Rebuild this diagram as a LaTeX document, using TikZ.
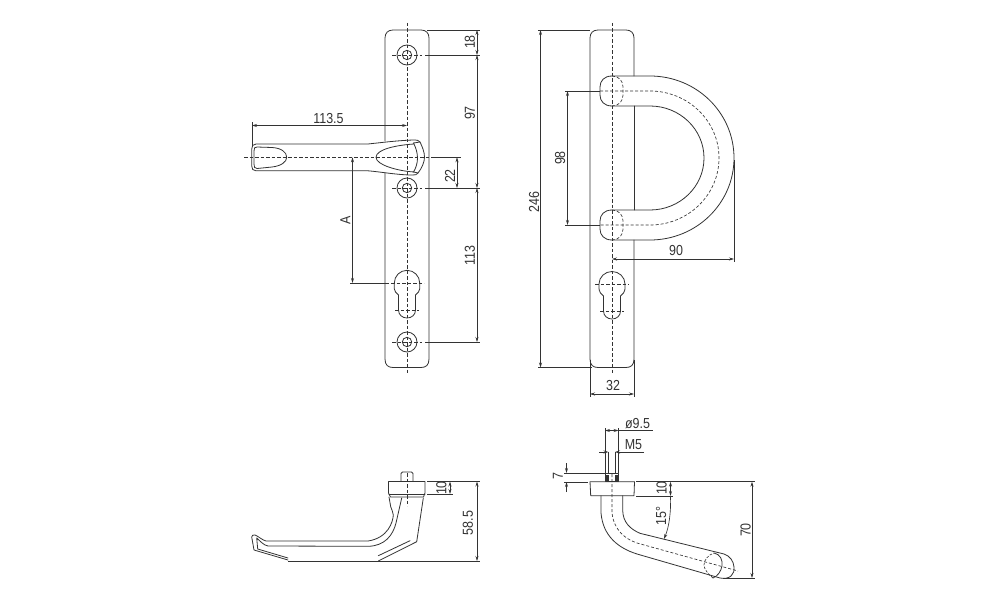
\documentclass[tikz,border=0pt]{standalone}
\usepackage{fontspec}
\setmainfont[FakeStretch=0.86]{Liberation Sans}
\usetikzlibrary{arrows.meta}
\definecolor{ink}{HTML}{333333}
\tikzset{
 x=1pt,y=-1pt,
 outline/.style={draw=ink,line width=0.8pt,line cap=round,line join=round},
 hidden/.style={draw=ink,line width=0.65pt,dash pattern=on 3pt off 2pt},
 center/.style={draw=ink,line width=0.65pt,dash pattern=on 3.5pt off 2pt},
 dimline/.style={draw=ink,line width=0.65pt},
 dimboth/.style={dimline,{Stealth[length=5pt,width=3pt]}-{Stealth[length=5pt,width=3pt]}},
 dimto/.style={dimline,-{Stealth[length=5pt,width=3pt]}},
 lab/.style={font=\fontsize{14.5}{15}\selectfont,text=ink,inner sep=0pt},
 vlab/.style={lab,rotate=90},
}
\begin{document}
\begin{tikzpicture}
\useasboundingbox (0,0) rectangle (1000,602);
\fill[white] (0,0) rectangle (1000,602);
%%% FRONT VIEW, LEFT
\draw[outline] (385,141) -- (385,38) .. controls (385,33) and (388,30) .. (393,30) -- (421,30) .. controls (426,30) and (429,33) .. (429,38) -- (429,359) .. controls (429,365) and (426,367.5) .. (421,367.5) -- (393,367.5) .. controls (388,367.5) and (385,365) .. (385,359) -- (385,173);
\draw[center] (407,23) -- (407,374);
\foreach \yy in {55,188,342}{
 \draw[outline] (407,\yy) circle[radius=10];
 \draw[outline] (407,\yy) circle[radius=4.7];
 \draw[center] (392,\yy) -- (422,\yy);
}
% keyhole
\draw[outline] (398.5,295) .. controls (393,291) and (394.3,287) .. (394.3,283) .. controls (394.3,276) and (400,270.3) .. (407,270.3) .. controls (414,270.3) and (419.7,276) .. (419.7,283) .. controls (419.7,287) and (421,291) .. (415.5,295) -- (415.5,310) .. controls (415.5,315) and (411.5,318) .. (407,318) .. controls (402.5,318) and (398.5,315) .. (398.5,310) -- cycle;
\draw[center] (391,283) -- (424,283);
\draw[center] (395,310) -- (419,310);
% lever
\draw[outline] (368,144) -- (256,144) .. controls (253,144) and (251.7,146) .. (251.7,149) -- (251.7,166) .. controls (251.7,169) and (253,170.8) .. (256,170.8) -- (368,170.8) .. controls (382,172) and (398,175) .. (412,175) .. controls (415,175) and (417,175) .. (418,173) .. controls (422,168) and (424.5,162) .. (424.5,157) .. controls (424.5,152) and (422,146) .. (420,142) .. controls (419,140.3) and (417,140) .. (413,140) .. controls (398,140.5) and (382,142.5) .. (368,144) -- cycle;
\draw[outline] (257,147) -- (272,147.5) .. controls (281,148) and (286.7,152) .. (286.7,157.3) .. controls (286.7,162) and (281,166) .. (272,167) -- (257,168.5) .. controls (254.5,168.5) and (254,167) .. (254,164) -- (254,151) .. controls (254,148) and (254.5,147) .. (257,147) -- cycle;
\draw[outline] (414,144) .. controls (398,145) and (376,149) .. (376,157.3) .. controls (376,165) and (398,171) .. (414,172);
\draw[outline] (413.5,143) .. controls (416,148) and (417.5,153) .. (417.5,158) .. controls (417.5,163) and (416,168) .. (413.5,172) .. controls (415,172.5) and (417,172.5) .. (418,173);
\draw[outline] (413.5,143) -- (420,142);
\draw[center] (244,157.3) -- (433,157.3);
% dimensions
\draw[dimline] (427,30) -- (480,30);
\draw[dimline] (425,55) -- (480,55);
\draw[dimline] (425,188) -- (480,188);
\draw[dimline] (425,342) -- (480,342);
\draw[dimline] (433,157.3) -- (461,157.3);
\draw[dimboth] (477,30) -- (477,55);
\draw[dimboth] (477,55) -- (477,188);
\draw[dimboth] (477,188) -- (477,342);
\draw[dimboth] (457,157.3) -- (457,188);
\draw[dimline] (252,122) -- (252,146);
\draw[dimboth] (252,125.5) -- (407,125.5);
\draw[dimboth] (352.5,157.3) -- (352.5,283);
\draw[dimline] (350,283) -- (389,283);
\node[vlab] (d18) at (470,42) {18};
\node[vlab] (d97) at (470,113) {97};
\node[vlab] (d22) at (450,176) {22};
\node[vlab] (d113) at (470,256) {113};
\node[lab] (d1135) at (328.5,119) {113.5};
\node[vlab] (dA) at (345.5,220) {A};
%%% FRONT VIEW, RIGHT
\draw[outline] (634,76) -- (634,38) .. controls (634,33) and (631,30) .. (626,30) -- (598,30) .. controls (593,30) and (590,33) .. (590,38) -- (590,359) .. controls (590,365) and (593,367.5) .. (598,367.5) -- (626,367.5) .. controls (631,367.5) and (634,365) .. (634,359) -- (634,240);
\draw[outline] (634,106) -- (634,210);
\draw[center] (612,23) -- (612,374);
% D handle
\draw[outline] (612,76) -- (650,76) .. controls (696.4,76) and (734,112.7) .. (734,158) .. controls (734,203.3) and (696.4,240) .. (650,240) -- (612,240);
\draw[outline] (612,106) -- (650,106) .. controls (679.8,106) and (704,129.3) .. (704,158) .. controls (704,186.7) and (679.8,210) .. (650,210) -- (612,210);
\draw[hidden] (600,91) -- (650,91) .. controls (688,91) and (719,121) .. (719,158) .. controls (719,195) and (688,225) .. (650,225) -- (600,225);
\foreach \yy in {76,210}{
 \draw[outline] (612,\yy) .. controls (604,\yy) and (600,\yy+5) .. (600,\yy+11) -- (600,\yy+19) .. controls (600,\yy+25) and (604,\yy+30) .. (612,\yy+30);
 \draw[hidden] (612,\yy) .. controls (619,\yy) and (623,\yy+5) .. (623,\yy+11) -- (623,\yy+19) .. controls (623,\yy+25) and (619,\yy+30) .. (612,\yy+30);
}
% keyhole
\draw[outline] (603.5,296) .. controls (598,292) and (599,288) .. (599,284) .. controls (599,277) and (605,271.5) .. (612,271.5) .. controls (619,271.5) and (625,277) .. (625,284) .. controls (625,288) and (626,292) .. (620.5,296) -- (620.5,311) .. controls (620.5,316) and (616.5,319) .. (612,319) .. controls (607.5,319) and (603.5,316) .. (603.5,311) -- cycle;
\draw[center] (595,284.5) -- (629,284.5);
\draw[center] (600,311) -- (624,311);
% dimensions
\draw[dimline] (538,30) -- (590,30);
\draw[dimline] (538,367.5) -- (592,367.5);
\draw[dimboth] (540.5,30) -- (540.5,367.5);
\draw[dimline] (565,91) -- (600,91);
\draw[dimline] (565,225) -- (600,225);
\draw[dimboth] (567.5,91) -- (567.5,225);
\draw[dimline] (734,160) -- (734,262);
\draw[dimboth] (612,259) -- (734,259);
\draw[dimline] (590,360) -- (590,397);
\draw[dimline] (634,360) -- (634,397);
\draw[dimboth] (590,394) -- (634,394);
\node[vlab] (d246) at (534,202) {246};
\node[vlab] (d98) at (560,158) {98};
\node[lab] (d90) at (676,251) {90};
\node[lab] (d32) at (613,386) {32};
%%% SIDE VIEW, LEFT
\draw[outline] (401,481) -- (401,473.5) .. controls (401,472.5) and (401.5,472) .. (402.5,472) -- (411.5,472) .. controls (412.5,472) and (413,472.5) .. (413,473.5) -- (413,481);
\draw[outline] (388.5,481.5) -- (425,481.5) -- (425,493) -- (423.5,497) -- (390.5,497) -- (388.5,493) -- cycle;
\draw[outline] (389,494) -- (425,494);
\draw[center] (407,473) -- (407,506);
% lever, outer and inner lines
\draw[outline] (389,497) -- (390.7,506.7) .. controls (391.5,510) and (393.3,512) .. (393.3,515) .. controls (393,522) and (388,538) .. (368,541) -- (266,541) .. controls (262,540) and (258,536) .. (255,535) .. controls (253,534.5) and (251.7,535.5) .. (251.7,537) -- (254,550) -- (288,560);
\draw[outline] (401.7,498) -- (396,523) .. controls (393,535) and (385,546) .. (368,546.3) -- (268,546) .. controls (264,545.5) and (260,541) .. (256.7,538) -- (257.7,549) -- (288,558);
\draw[outline] (423.3,498) -- (416.7,541.7) -- (378.3,561);
\draw[outline] (410,540.7) -- (378.3,555.7);
% dimensions
\draw[dimline] (427,481.5) -- (480,481.5);
\draw[dimline] (427,494) -- (453,494);
\draw[dimline] (288,561) -- (480,561);
\draw[dimboth] (450,481.5) -- (450,494);
\draw[dimboth] (477,481.5) -- (477,561);
\node[vlab] (d10a) at (441.5,488) {10};
\node[vlab] (d585) at (468,523) {58.5};
%%% SIDE VIEW, RIGHT
\draw[outline] (605,473) rectangle (618.5,481.5);
\fill[ink] (606,475) rectangle (608.5,481);
\fill[ink] (615,475) rectangle (617.5,481);
\draw[outline] (590,481.7) -- (634.5,481.7) -- (634,495.7) -- (590.7,495.7) -- cycle;
\draw[outline] (601,495.7) -- (601,513) .. controls (603,536) and (618,548) .. (637,554) -- (720,578) .. controls (730,580) and (735,574) .. (734,567) .. controls (733.5,561) and (730,556) .. (724,554) -- (640,533.3) .. controls (630,529) and (622.7,522) .. (622.7,510) -- (622.7,495.7);
\draw[hidden] (612,474) -- (612,513) .. controls (614,530) and (625,539) .. (637,543) -- (738,571);
\draw[hidden,dash pattern=on 2.5pt off 1.5pt] (713,578) .. controls (708,574) and (704,569) .. (704,565) .. controls (704,560) and (708,555) .. (714,553);
\draw[outline] (714,553) .. controls (720,554) and (723,560) .. (722,566) .. controls (721,571) and (718,576) .. (713,578);
% dimensions
\draw[dimline] (605,428) -- (605,473);
\draw[dimline] (618.5,428) -- (618.5,473);
\draw[dimboth] (605,430.5) -- (618.5,430.5);
\draw[dimline] (618.5,430.5) -- (653,430.5);
\draw[dimline] (608.5,452) -- (608.5,473);
\draw[dimline] (615,452) -- (615,473);
\draw[dimto] (599,452) -- (608.5,452);
\draw[dimto] (644,452) -- (615,452);
\draw[dimline] (564,473) -- (605,473);
\draw[dimline] (564,482) -- (588,482);
\draw[dimto] (566.5,463) -- (566.5,473);
\draw[dimto] (566.5,492) -- (566.5,482);
\draw[dimline] (636,481.7) -- (755,481.7);
\draw[dimline] (636,496) -- (673,496);
\draw[dimboth] (670.5,481.7) -- (670.5,496);
\draw[dimline] (723,578) -- (755,578);
\draw[dimboth] (752,481.7) -- (752,578);
\draw[dimline,-{Stealth[length=5pt,width=3pt]}] (670.5,497) .. controls (671,513) and (669,527) .. (664,539);
\node[lab] (dphi) at (637.5,424) {ø9.5};
\node[lab] (dm5) at (633.5,445) {M5};
\node[vlab] (d7) at (558,476) {7};
\node[vlab] (d10b) at (661.5,488) {10};
\node[vlab] (d15) at (661,516) {15°};
\node[vlab] (d70) at (745.5,530) {70};
\end{tikzpicture}
\end{document}
